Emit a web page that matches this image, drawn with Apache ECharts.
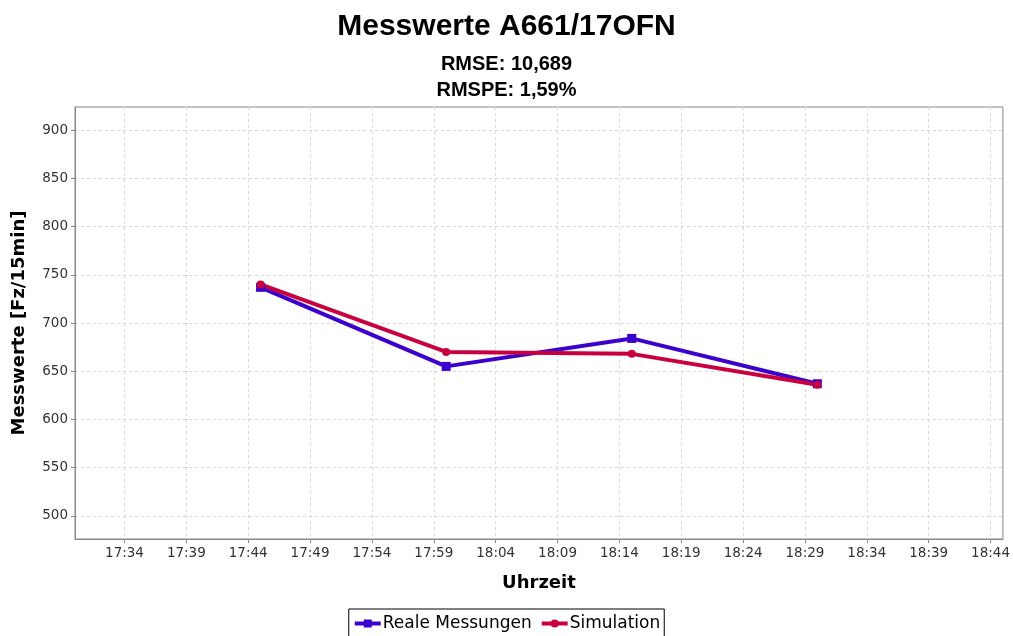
<!DOCTYPE html>
<html lang="de">
  <head>
    <meta charset="UTF-8" />
    <title>Messwerte A661/17OFN</title>
    <script src="https://cdn.jsdelivr.net/npm/echarts@6/dist/echarts.min.js"></script>
  </head>
  <body style="margin:0;background:#fff">
    <style>
      #chart {
        width: 1013px;
        height: 636px;
      }
    </style>
    <div id="chart"></div>

    <script>
      const times = ['17:45', '18:00', '18:15', '18:30'];
      const realeMessungen = [737, 655, 684, 637];
      const simulation = [740, 670, 668, 636];
      const xTickLabels = ['17:34', '17:39', '17:44', '17:49', '17:54', '17:59', '18:04', '18:09',
        '18:14', '18:19', '18:24', '18:29', '18:34', '18:39', '18:44'];
      const yTicks = [500, 550, 600, 650, 700, 750, 800, 850, 900];

      // minutes after 17:30 (axis starts there)
      const toMin = (t) => {
        const [h, m] = t.split(':').map(Number);
        return (h - 17) * 60 + m - 30;
      };
      const fromMin = (v) => {
        const total = 17 * 60 + 30 + Math.round(v);
        return Math.floor(total / 60) + ':' + String(total % 60).padStart(2, '0');
      };
      const xTicks = xTickLabels.map(toMin);

      const chart = echarts.init(document.getElementById('chart'));
      const narrow = "'Liberation Sans Narrow', 'Liberation Sans', Arial, sans-serif";

      chart.setOption({
        backgroundColor: '#fff',
        animation: false,
        title: [
          { text: 'Messwerte A661/17OFN', left: 'center', top: 7,
            textStyle: { fontFamily: narrow, fontSize: 30, fontWeight: 'bold', color: '#000' } },
          { text: 'RMSE: 10,689', left: 'center', top: 49,
            textStyle: { fontFamily: narrow, fontSize: 20, fontWeight: 'bold', color: '#000' } },
          { text: 'RMSPE: 1,59%', left: 'center', top: 75,
            textStyle: { fontFamily: narrow, fontSize: 20, fontWeight: 'bold', color: '#000' } }
        ],
        legend: {
          top: 609,
          left: 'center',
          backgroundColor: '#fff',
          borderColor: '#000',
          borderWidth: 1,
          borderRadius: 0,
          padding: [6, 4, 10, 4],
          itemGap: 8,
          itemWidth: 26,
          itemHeight: 10,
          lineStyle: { width: 4 },
          textStyle: { fontFamily: 'DejaVu Sans', fontSize: 17, color: '#000', padding: [0, 0, 0, -3] },
          data: ['Reale Messungen', 'Simulation']
        },
        grid: {
          left: 75, right: 8, top: 107, bottom: 97,
          show: true, borderColor: '#888', borderWidth: 1, backgroundColor: '#fff'
        },
        xAxis: {
          type: 'value',
          min: 0,
          max: 75,
          name: 'Uhrzeit',
          nameLocation: 'middle',
          nameGap: 35,
          nameTextStyle: { fontFamily: 'DejaVu Sans', fontSize: 18, fontWeight: 'bold', color: '#000' },
          axisLine: { lineStyle: { color: '#888' } },
          axisTick: { customValues: xTicks, length: 4, lineStyle: { color: '#888' } },
          axisLabel: {
            customValues: xTicks,
            formatter: fromMin,
            fontFamily: 'DejaVu Sans', fontSize: 13.5, color: '#333', margin: 7
          },
          splitLine: { show: true, lineStyle: { color: '#d8d8d8', type: [3, 3] } }
        },
        yAxis: {
          type: 'value',
          min: 476,
          max: 924,
          name: 'Messwerte [Fz/15min]',
          nameLocation: 'middle',
          nameGap: 47,
          nameTextStyle: { fontFamily: 'DejaVu Sans', fontSize: 18, fontWeight: 'bold', color: '#000' },
          axisLine: { show: true, lineStyle: { color: '#888' } },
          axisTick: { show: true, customValues: yTicks, length: 4, lineStyle: { color: '#888' } },
          axisLabel: { customValues: yTicks, fontFamily: 'DejaVu Sans', fontSize: 13.5, color: '#333', margin: 7 },
          splitLine: { show: true, lineStyle: { color: '#d8d8d8', type: [3, 3] } }
        },
        series: [
          {
            name: 'Reale Messungen',
            type: 'line',
            data: times.map((t, i) => [toMin(t), realeMessungen[i]]),
            symbol: 'rect',
            symbolSize: 9,
            lineStyle: { width: 4, color: '#3c00cc' },
            itemStyle: { color: '#3c00cc' }
          },
          {
            name: 'Simulation',
            type: 'line',
            data: times.map((t, i) => [toMin(t), simulation[i]]),
            symbol: 'circle',
            symbolSize: 8,
            lineStyle: { width: 4, color: '#c8003e' },
            itemStyle: { color: '#c8003e' }
          }
        ]
      });
    </script>
  </body>
</html>
